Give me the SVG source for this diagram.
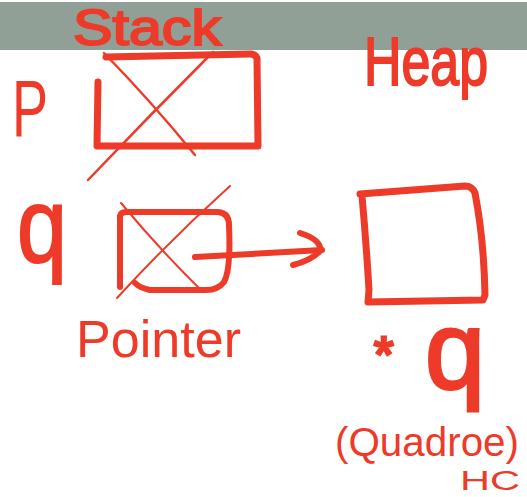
<svg xmlns="http://www.w3.org/2000/svg" width="527" height="497" viewBox="0 0 527 497">
<style>
.t{font-family:"Liberation Sans","DejaVu Sans",sans-serif;fill:#ee3a28}
.s{fill:none;stroke:#ee3a28;stroke-linecap:round;stroke-linejoin:round}
</style>
<rect width="527" height="497" fill="#fff"/>
<rect x="0" y="2" width="527" height="48" fill="#90a096"/>
<g id="title-stack"><text class="t" x="73" y="45" font-size="50" stroke="#ee3a28" stroke-width="2" textLength="148" lengthAdjust="spacingAndGlyphs">Stack</text></g>
<g id="title-heap"><text class="t" x="364" y="85" font-size="68" stroke="#ee3a28" stroke-width="2" textLength="124" lengthAdjust="spacingAndGlyphs">Heap</text></g>
<g id="p-node">
<text class="t" x="12" y="136" font-size="80" textLength="36" lengthAdjust="spacingAndGlyphs">P</text>
<path class="s" stroke-width="7" d="M98,82 L97,146 L258,146 L257,58 Q255,54 250,54 L106,57"/>
<path class="s" stroke-width="2.5" d="M104,53 Q150,100 195,155"/>
<path class="s" stroke-width="2.5" d="M213,52 Q150,115 88,180"/>
</g>
<g id="q-node">
<text class="t" x="17" y="262" font-size="105" stroke="#ee3a28" stroke-width="2" textLength="50" lengthAdjust="spacingAndGlyphs">q</text>
<path class="s" stroke-width="6" d="M120,287 L120,216 Q121,212 126,212 L218,212 Q229,213 229,225 Q231,270 224,282 Q218,290 206,290 L150,290 Q140,288 135,283"/>
<path class="s" stroke-width="2" d="M121,203 Q160,250 203,292"/>
<path class="s" stroke-width="2" d="M230,186 Q170,240 117,298"/>
<text class="t" x="76" y="357" font-size="52" textLength="165" lengthAdjust="spacingAndGlyphs">Pointer</text>
</g>
<g id="connectors">
<path class="s" stroke-width="6" d="M195,257 L322,250"/>
<path class="s" stroke-width="6" d="M300,233 Q322,240 320,251 Q312,260 293,265"/>
</g>
<g id="heap-node">
<path class="s" stroke-width="7" d="M362,196 Q366,240 369,290 L368,302 L483,300 L485,295 Q484,240 475,193 Q472,186 465,186 L360,194"/>
<text class="t" x="374" y="372" font-size="50" stroke="#ee3a28" stroke-width="3">*</text>
<text class="t" x="425" y="388" font-size="110" stroke="#ee3a28" stroke-width="3" textLength="60" lengthAdjust="spacingAndGlyphs">q</text>
<text class="t" x="335" y="456" font-size="40" textLength="184" lengthAdjust="spacingAndGlyphs">(Quadroe)</text>
<text class="t" x="460" y="490" font-size="28" textLength="60" lengthAdjust="spacingAndGlyphs">HC</text>
</g>
</svg>
